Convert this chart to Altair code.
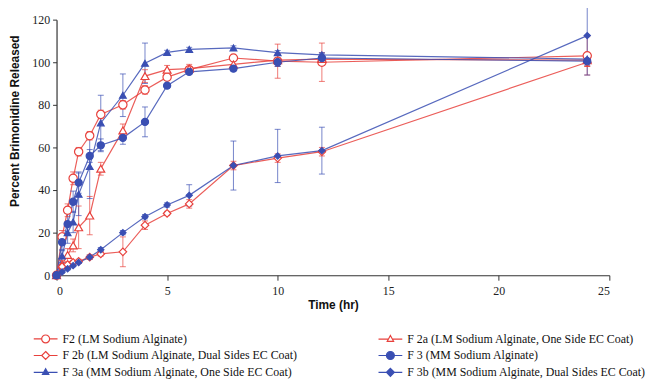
import altair as alt
import pandas as pd

times = [0, 0.25, 0.5, 0.75, 1, 1.5, 2, 3, 4, 5, 6, 8, 10, 12, 24]

series_names = [
    "F2 (LM Sodium Alginate)",
    "F 2a (LM Sodium Alginate, One Side EC Coat)",
    "F 2b (LM Sodium Alginate, Dual Sides EC Coat)",
    "F 3 (MM Sodium Alginate)",
    "F 3a (MM Sodium Alginate, One Side EC Coat)",
    "F 3b (MM Sodium Alginate, Dual Sides EC Coat)",
]

f2_vals = [0, 18, 30.5, 45.5, 58, 65.5, 75.5, 80, 87, 93, 96.5, 102, 100.5, 100, 103]
f2_errs = [0, 3, 3, 3, 2, 2, 2, 2, 2, 1, 1, 1, 8, 9, 9]
f2a_vals = [0, 5, 9.5, 14, 22.5, 28, 50, 68, 93.5, 96.5, 97, 99, 101, 101.5, 101]
f2a_errs = [0, 2, 3, 3, 10, 9, 3, 3, 3, 2, 2, 2, 3, 3, 3]
f2b_vals = [0, 4, 5, 6, 6.5, 8.5, 10, 11, 23.5, 29, 33.5, 51.5, 55, 58, 100]
f2b_errs = [0, 1, 1, 1, 1, 1, 1, 7, 2, 1, 2, 2, 2, 2, 2]
f3_vals = [0, 15.5, 24, 34.5, 43.5, 56, 61, 64.5, 72, 89, 95.5, 97, 100, 102, 100.5]
f3_errs = [0, 4, 5, 5, 5, 3, 3, 3, 7, 1, 1, 1, 2, 2, 2]
f3a_vals = [0, 9, 20, 25, 38, 51, 71.5, 84.5, 99.5, 104.6, 106, 106.7, 104.5, 103.5, 101.5]
f3a_errs = [0, 3, 5, 5, 10, 15, 13, 10, 9.5, 1, 1, 1, 1, 1, 1]
f3b_vals = [0, 1.5, 3, 4.5, 6, 8.5, 12, 20, 27.5, 33, 37.5, 51.5, 56, 58.5, 112.5]
f3b_errs = [0, 0.5, 0.5, 0.5, 0.5, 1, 1, 1, 1, 1, 5, 11.5, 12.5, 11, 18.5]

all_vals = [f2_vals, f2a_vals, f2b_vals, f3_vals, f3a_vals, f3b_vals]
all_errs = [f2_errs, f2a_errs, f2b_errs, f3_errs, f3a_errs, f3b_errs]

RED = "#e8413c"
BLUE = "#3a4fb3"
colors = [RED, RED, RED, BLUE, BLUE, BLUE]
fills = ["white", "white", "white", BLUE, BLUE, BLUE]
shapes = ["circle", "triangle-up", "diamond", "circle", "triangle-up", "diamond"]
sizes = [70, 40, 45, 70, 45, 45]
legend_paths = [
    "M-3,0H-1M1,0H3M-1,0A1,1 0 1,1 1,0A1,1 0 1,1 -1,0Z",
    "M-3,0H-0.5M0.5,0H3M0,-0.9L0.8,0.55L-0.8,0.55Z",
    "M-3,0H-1M1,0H3M0,-1L1,0L0,1L-1,0Z",
    "M-3,0H-1M1,0H3M-1,0A1,1 0 1,1 1,0A1,1 0 1,1 -1,0Z",
    "M-3,0H-0.5M0.5,0H3M0,-0.9L0.8,0.55L-0.8,0.55Z",
    "M-3,0H-1M1,0H3M0,-1L1,0L0,1L-1,0Z",
]

rows = []
for name, vals, errs in zip(series_names, all_vals, all_errs):
    for t, v, e in zip(times, vals, errs):
        rows.append({"series": name, "time": t, "value": v, "err": e,
                     "lo": v - e, "hi": v + e})
df = pd.DataFrame(rows)

SERIF = "Times New Roman, Liberation Serif, DejaVu Serif, serif"
SANS = "Arial, Liberation Sans, sans-serif"

x_enc = alt.X("time:Q", scale=alt.Scale(domain=[0, 25], nice=False),
              axis=alt.Axis(values=[0, 5, 10, 15, 20, 25], title="Time (hr)",
                            grid=False, tickSize=5, labelPadding=5,
                            labelFont=SERIF, labelFontSize=12, labelColor="#222",
                            titleFont=SANS, titleFontSize=12, titleFontWeight="bold",
                            titlePadding=4, titleColor="#111",
                            domainColor="#333", tickColor="#333", domainWidth=1.2))
y_enc = alt.Y("value:Q", scale=alt.Scale(domain=[0, 120], nice=False),
              axis=alt.Axis(values=[0, 20, 40, 60, 80, 100, 120],
                            title="Percent Brimonidine Released",
                            grid=False, tickSize=4, labelPadding=3,
                            labelFont=SERIF, labelFontSize=12, labelColor="#222",
                            titleFont=SANS, titleFontSize=12, titleFontWeight="bold",
                            titleColor="#111", titleX=-38, titleY=102,
                            titleBaseline="alphabetic", titleAngle=-90,
                            domainColor="#333", tickColor="#333", domainWidth=1.2))

col_scale = alt.Scale(domain=series_names, range=colors)
base = alt.Chart(df)

lines = base.mark_line(strokeWidth=1.2, opacity=0.85).encode(
    x=x_enc, y=y_enc,
    color=alt.Color("series:N", scale=col_scale, legend=None),
)

err_base = base.transform_filter("datum.err > 0")
err_rules = err_base.mark_rule(strokeWidth=1, opacity=0.7).encode(
    x="time:Q", y="lo:Q", y2="hi:Q",
    color=alt.Color("series:N", scale=col_scale, legend=None),
)
cap_lo = err_base.mark_tick(orient="horizontal", size=6, thickness=1, opacity=0.7).encode(
    x="time:Q", y="lo:Q",
    color=alt.Color("series:N", scale=col_scale, legend=None),
)
cap_hi = err_base.mark_tick(orient="horizontal", size=6, thickness=1, opacity=0.7).encode(
    x="time:Q", y="hi:Q",
    color=alt.Color("series:N", scale=col_scale, legend=None),
)

points = base.mark_point(filled=True, strokeWidth=1.2, opacity=1).encode(
    x="time:Q", y="value:Q",
    shape=alt.Shape("series:N", scale=alt.Scale(domain=series_names, range=shapes), legend=None),
    fill=alt.Fill("series:N", scale=alt.Scale(domain=series_names, range=fills), legend=None),
    stroke=alt.Stroke("series:N", scale=alt.Scale(domain=series_names, range=colors), legend=None),
    size=alt.Size("series:N", scale=alt.Scale(domain=series_names, range=sizes), legend=None),
)

leg = dict(orient="none", direction="horizontal", legendX=-17, legendY=316, columns=2,
           columnPadding=78, rowPadding=3, labelFont=SERIF, labelFontSize=12,
           labelLimit=400, labelOffset=11, symbolSize=64, symbolStrokeWidth=1.2,
           title=None, padding=0, labelColor="#111", symbolOpacity=1)

legend_layer = alt.Chart(df).transform_filter("false").mark_point(
    filled=True, strokeWidth=1.2, opacity=1).encode(
    x="time:Q", y="value:Q",
    shape=alt.Shape("series:N", scale=alt.Scale(domain=series_names, range=legend_paths),
                    legend=alt.Legend(**leg)),
    fill=alt.Fill("series:N", scale=alt.Scale(domain=series_names, range=fills),
                  legend=alt.Legend(**leg)),
    stroke=alt.Stroke("series:N", scale=alt.Scale(domain=series_names, range=colors),
                      legend=alt.Legend(**leg)),
)

chart = alt.layer(lines, err_rules, cap_lo, cap_hi, points, legend_layer).resolve_scale(
    shape="independent", fill="independent", stroke="independent",
    color="independent", size="independent",
).properties(
    width=558, height=258,
    autosize=alt.AutoSizeParams(type="none"),
    padding={"left": 49, "top": 10, "right": 37, "bottom": 104},
).configure_view(stroke=None).configure_legend(
    labelFont=SERIF, labelFontSize=12, labelColor="#111"
)

chart.save("out.html", embed_options={"renderer": "svg", "actions": False})
